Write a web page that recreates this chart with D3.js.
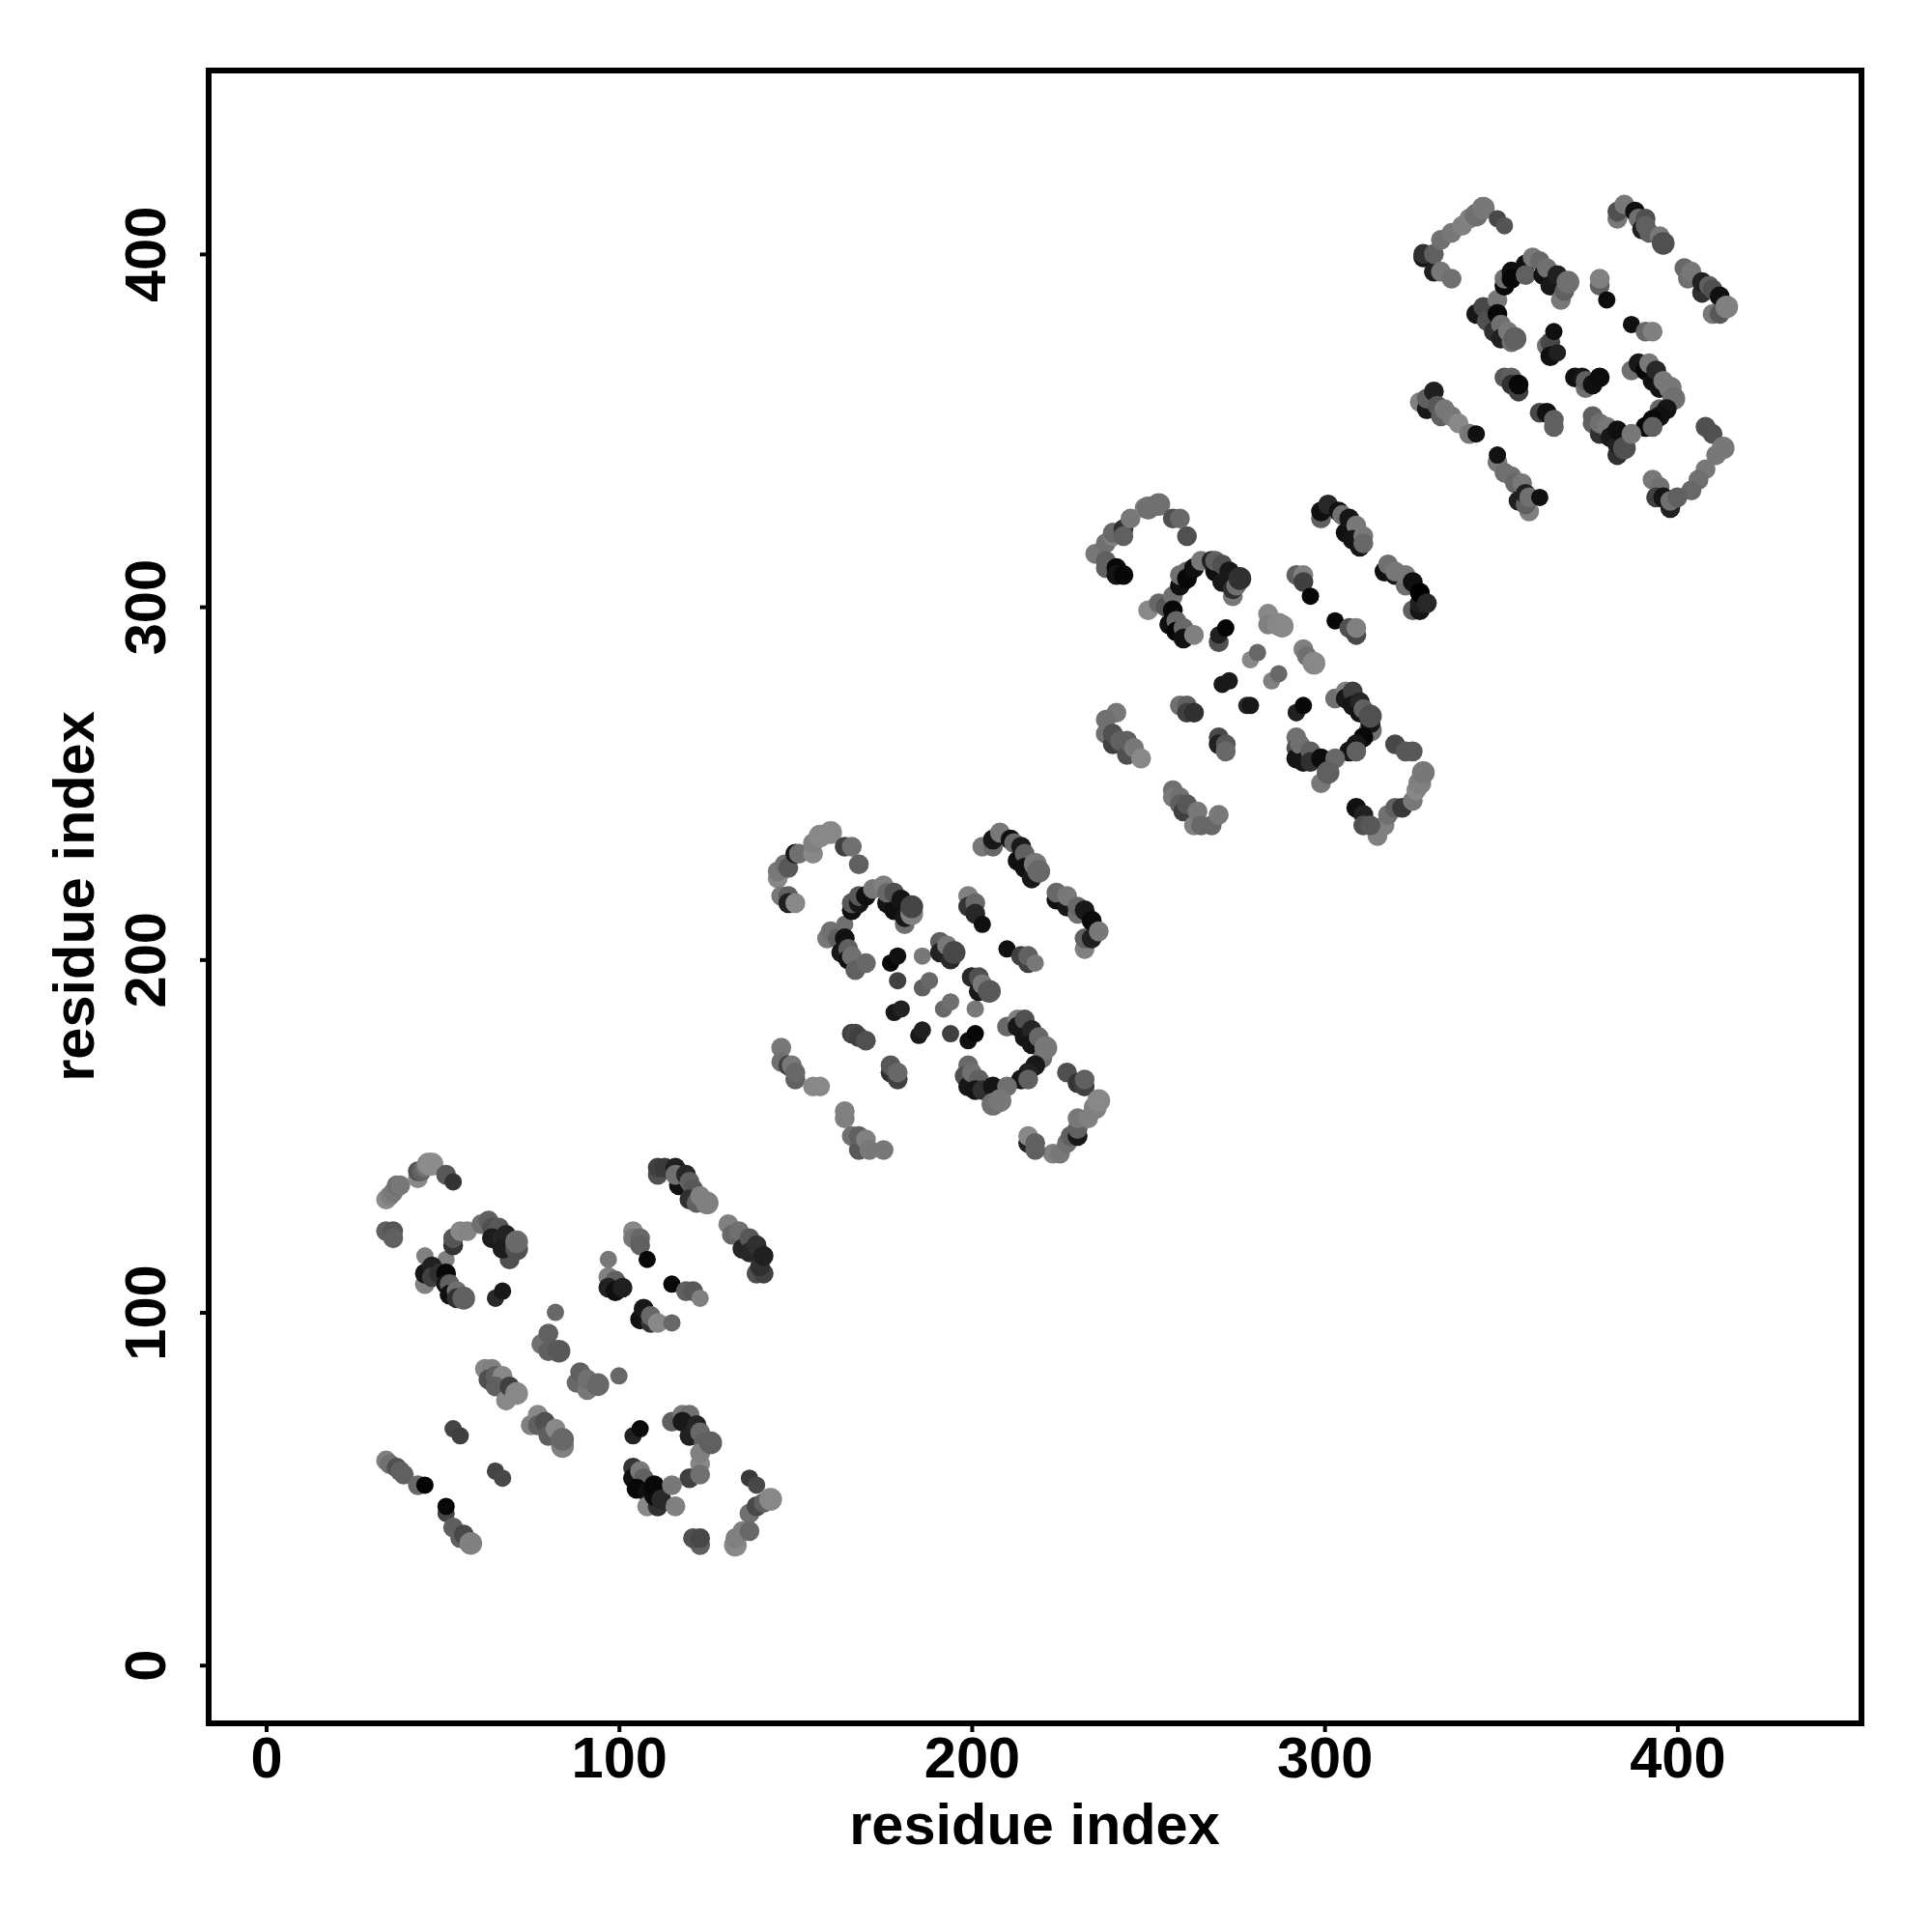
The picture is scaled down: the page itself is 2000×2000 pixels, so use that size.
<!DOCTYPE html>
<html><head><meta charset="utf-8">
<script src="https://cdn.jsdelivr.net/npm/d3@7"></script>
<style>html,body{margin:0;padding:0;background:#fff}svg{display:block}</style>
</head><body><svg id="c" width="2000" height="2000"></svg>
<script>
const tickValues=[0,100,200,300,400];
const axisTitle="residue index";
// [residue i, residue j, grey level]
const block1=[[34,132,0x8c],[35,133,0x80],[36,134,0x78],[37,136,0x70],[38,136,0x78],[43,138,0x88],[43,140,0x50],[44,140,0x60],[45,141,0x70],[46,142,0x88],[47,142,0x8c],[51,139,0x58],[53,137,0x33],
[34,123,0x60],[36,123,0x55],[36,121,0x60],
[45,116,0x80],[51,115,0x80],[53,119,0x33],[53,121,0x55],[55,123,0x88],[57,123,0x85],[61,125,0x70],[63,126,0x60],[64,124,0x50],[66,124,0x58],[69,115,0x50],[64,121,0x1c],[67,121,0x25],[68,122,0x22],[67,118,0x1c],[71,118,0x50],[71,120,0x6a],
[45,108,0x80],[45,111,0x15],[47,113,0x20],[47,110,0x40],[49,111,0x30],[51,111,0x08],[51,108,0x15],[52,108,0x60],[52,105,0x10],[54,106,0x70],[54,104,0x30],[56,104,0x60],
[65,104,0x2a],[67,106,0x18],
[82,100,0x68],[78,91,0x70],[80,94,0x60],[80,89,0x60],[83,89,0x58],
[88,80,0x68],[89,83,0x60],[91,78,0x78],[91,81,0x70],[94,79.5,0x68],[100,82,0x68],
[62,84,0x85],[64,84,0x80],[63,81,0x50],[65,82,0x60],[67,82,0x88],[65,79,0x60],[68,75,0x88],[69,79,0x40],[71,77,0x88],
[75,68,0x80],[77,71,0x88],[77,68,0x60],[79,69,0x50],[80,65,0x60],[82,67,0x88],[84,62,0x80],[84,64,0x68],
[53,67,0x44],[55,65,0x40],[65,55,0x44],[67,53,0x48],
[34,58,0x80],[35,57,0x70],[37,56,0x50],[38,55,0x60],[39,54,0x60],[43,51,0x68],[45,51,0x05],[51,43,0x45],[51,45,0x08],[53,39,0x60],[55,36,0x60],[56,37,0x48],[58,34.5,0x80],
[111,139,0x50],[111,141,0x40],[113,141,0x3a],[116,141,0x20],[117,136,0x10],[116,139,0x70],[119,139,0x28],[120,137,0x60],[121,135,0x58],[120,132,0x30],[122,131,0x60],[123,133,0x80],[125,131,0x80],
[131,125,0x80],[132,122,0x68],[134,123,0x70],[135,118,0x25],[137,121,0x58],[137,117,0x28],[139,111,0x50],[141,111,0x40],[140,113,0x30],[139,119,0x30],[141,116,0x20],
[104,123,0x88],[104,121,0x78],[106,121,0x68],[106,119,0x60],[108,115,0x08],
[97,115,0x78],[97,110,0x80],[99,109,0x60],[97,107,0x22],[99,106,0x10],[101,107,0x20],
[115,108,0x08],[119,106,0x60],[121,106,0x58],[123,104,0x80],
[106,98,0x10],[107,101,0x18],[109,97,0x35],[109,99,0x68],[111,97,0x88],[115,97,0x68],
[115,69,0x60],[118,71,0x78],[120,71,0x70],[118,69,0x18],[120,65,0x20],[122,68,0x25],[123,66,0x68],[124,63,0x60],[123,57,0x88],[123,60,0x80],[120,53,0x40],[123,54,0x70],[126,63,0x60],
[104,65,0x22],[106,67,0x0c],
[104,56,0x35],[104,53,0x10],[106,55,0x78],[107,53,0x60],[105,50,0x08],[108,49,0x10],[108,45,0x88],[111,45,0x30],[110,48,0x0c],[110,51,0x08],[112,47,0x28],[115,51,0x78],[116,45,0x80],
[137,53,0x3a],[139,51,0x48],[137,43,0x70],[139,45,0x48],[141,46,0x60],[143,47,0x88],
[133,34,0x88],[133,36,0x80],[135,38,0x80],[137,38,0x68],
[123,34,0x60],[121,36,0x50],[123,36,0x48]];
const block2=[[145,223,0x88],[145,225,0x78],[147,227,0x70],[148,226,0x58],[150,230,0x18],[151,230,0x70],[155,230,0x88],[155,233,0x80],[157,235,0x88],[160,236,0x88],[164,232,0x40],[168,227,0x60],[166,232,0x70],
[146,218,0x78],[148,218,0x60],[148,216,0x20],[150,216,0x88],
[159,206,0x78],[160,208,0x70],[162,206,0x60],[164,210,0x70],[164,206,0x12],[163,202,0x18],[165,203,0x60],[165,200,0x10],[166,201,0x70],[167,197,0x60],[170,199,0x68],
[166,214,0x10],[166,216,0x58],[168,216,0x18],[168,218,0x58],[170,218,0x10],[172,220,0x78],[175,221,0x80],[176,216,0x15],[176,219,0x68],[178,214,0x10],[178,219,0x50],[180,217,0x15],[181,210,0x70],[181,212,0x18],[183,213,0x80],[183,215,0x45],
[177,199,0x08],[179,201,0x10],[179,194,0x40],[186,201,0x78],[186,192,0x60],[188,194,0x68],[178,185,0x18],[180,186,0x22],[192,186,0x68],[194,188,0x70],[201,186,0x78],
[185,178.5,0x18],[186,180,0x20],[194,179,0x40],[199,177,0x10],[201,179,0x08],
[166,179,0x40],[167,179,0x48],[168,178,0x40],[170,177,0x50],
[177,168,0x30],[177,170,0x58],[179,166,0x40],[179,168,0x68],
[191,205,0x60],[191,202,0x22],[193,204,0x78],[194,200,0x28],[195,202,0x48],
[200,195,0x28],[202,191,0x18],[202,195,0x50],[203,193,0x78],[205,191,0x58],
[203,232,0x78],[206,232,0x68],[206,234,0x18],[208,236,0x78],[211,234,0x10],[212,233,0x68],[213,228,0x10],[214,232,0x1a],[215,230,0x60],[215,226,0x10],[217,223,0x18],[218,227,0x78],[219,225,0x68],
[224,217,0x10],[224,219,0x68],[227,215,0x18],[227,218,0x78],[230,213,0x70],[230,215,0x68],[232,203,0x80],[232,206,0x60],[232,214,0x18],[234,206,0x20],[234,211,0x0a],[236,208,0x78],
[199,218,0x80],[199,215,0x35],[201,216,0x68],[201,213,0x28],[203,210,0x10],
[210,203,0x10],[214,201,0x40],[216,199,0x40],[216,201,0x60],[218,199,0x78],
[210,181,0x68],[213,183,0x80],[213,181,0x18],[215,183,0x50],[215,178,0x15],[217,180,0x25],[217,176,0x15],[219,178,0x68],[220,172,0x70],[221,175,0x78],[218,170,0x18],[216,168,0x20],[214,166,0x18],[216,166,0x60],
[199,170,0x68],[198,167,0x50],[199,164,0x18],[200,168,0x70],[202,166,0x60],[201,163,0x15],[203,163,0x30],[206,164,0x15],[206,159,0x70],[210,164,0x70],[208,160,0x78],
[227,168,0x50],[230,165,0x35],[232,164,0x40],[232,166,0x60],
[223,145,0x80],[225,145,0x78],[227,148,0x70],[228,150,0x60],[230,150,0x18],[230,152,0x60],[230,155,0x78],[233,155,0x80],[235,158,0x80],[236,160,0x88],
[216,148,0x20],[216,150,0x88],[218,146,0x60],[218,148,0x60],
[146,175,0x78],[146,171,0x70],[148,170,0x40],[149,170,0x78],[150,166,0x60],[150,168,0x68],[155,164,0x88],[157,164,0x88],
[164,155,0x80],[164,157,0x80],[166,150,0x70],[168,146,0x58],[168,150,0x60],[170,149,0x80],[171,146,0x78],[175,146,0x78]];
const block3=[[235,315,0x78],[238,318,0x70],[240,320,0x80],[240,321,0x68],[243,322,0x30],[243,320,0x60],[245,325,0x78],[249,328,0x80],[250,328,0x70],[253,329,0x70],[257,325,0x50],[261,320,0x50],[259,325,0x68],
[238,313,0x60],[238,311,0x60],[241,311,0x08],[241,309,0x15],[243,309,0x08],
[250,299,0x88],[253,301,0x68],[255,300,0x55],[257,303,0x70],[257,299,0x08],[256,295,0x10],[258,296,0x68],[258,293,0x05],[260,294,0x68],[260,291,0x10],[263,292,0x80],
[259,306,0x10],[259,309,0x70],[261,310,0x70],[261,308,0x08],[263,311,0x10],[265,313,0x78],[268,313,0x22],[269,310,0x10],[269,313,0x60],[271,307,0x18],[271,312,0x50],[273,310,0x18],[274,303,0x78],[274,305,0x30],[275,306,0x70],[276,308,0x30],
[270,290,0x50],[270,292,0x20],[272,294,0x05],
[284,298,0x88],[284,295,0x80],[287,295,0x88],[288,294.5,0x88],
[279,285,0x88],[281,287,0x68],[294,288,0x80],[295,286,0x70],[297,284,0x88],
[285,279,0x80],[287,281,0x68],[271,278,0x18],[273,279,0x1a],[278,272,0x28],[279,272,0x18],
[259,272,0x70],[261,272,0x60],[261,270,0x40],[263,270,0x30],
[270,263,0x48],[270,261,0x20],[272,261,0x58],[272,259,0x68],
[292,270,0x60],[292,270,0x20],[294,272,0x08],
[299,325,0x60],[299,327,0x10],[301,329,0x28],[304,327,0x12],[305,326,0x70],[306,321,0x10],[307,325,0x15],[309,323,0x78],[308,319,0x15],[310,317,0x15],[311,320,0x78],[311,318,0x68],
[317,310,0x10],[318,312,0x70],[320,309,0x18],[320,310,0x78],[323,306,0x70],[323,309,0x78],[325,299,0x60],[325,307,0x10],[327,299,0x15],[327,301,0x20],[327,304,0x00],[329,301,0x28],
[292,309,0x60],[294,309,0x80],[294,307,0x40],[296,303,0x08],
[303,296,0x08],[307,294,0x50],[309,292,0x48],[309,294,0x80],
[303,274,0x70],[306,276,0x80],[306,274,0x18],[308,276,0x40],[308,272,0x15],[310,273,0x25],[310,270,0x15],[311,271,0x60],[313,265,0x70],[313,267,0x15],[313,269,0x50],[311,263,0x08],[309,261,0x18],[307,259,0x15],[309,259,0x60],
[292,263,0x70],[292,260,0x50],[292,257,0x15],[293,261,0x70],[294,256,0x15],[296,259,0x60],[296,256,0x30],[299,250,0x78],[299,257,0x0c],[303,257,0x68],[301,253,0x60],
[320,261,0x48],[323,259,0x58],[325,259,0x58],
[315,235,0x80],[317,238,0x80],[318,241,0x70],[320,243,0x60],[322,243,0x38],[325,245,0x78],[326,248,0x88],[327,250,0x80],[328,253,0x78],
[309,243,0x10],[311,241,0x22],[311,238,0x50],[313,238,0x58],
[241,270,0x78],[238,268,0x70],[238,264,0x70],[240,261,0x40],[240,264,0x50],[242,262,0x60],[244,258,0x50],[244,262,0x60],[246,260,0x78],[248,257,0x88],
[257,248,0x70],[257,246,0x78],[259,246,0x70],[259,244,0x60],[260,242,0x40],[261,244,0x58],[263,238,0x80],[264,242,0x78],[265,238,0x68],[268,238,0x68],[270,241,0x78]];
const block4=[[328,399,0x15],[328,400,0x30],[331,395,0x20],[331,400,0x60],[333,395,0x78],[336,393,0x70],[333,404,0x70],[336,406,0x78],[339,408,0x80],[341,410,0x80],[343,411,0x70],[345,413,0x78],[349,410,0x48],[351,408,0x55],
[343,383,0x18],[345,385,0x48],[349,387,0x78],[346,381,0x50],[349,383,0x08],[348,378,0x30],[350,380,0x70],[350,376,0x20],[352,378,0x78],[353,375,0x70],[354,376,0x60],
[351,391,0x08],[351,393,0x70],[353,395,0x10],[353,393,0x08],[357,397,0x10],[357,394,0x60],[359,399,0x78],[361,398,0x68],[362,394,0x10],[363,396,0x70],[364,391,0x18],[366,394,0x20],[367,387,0x78],[368,389.5,0x60],[369,392,0x70],
[363,374,0x70],[364,375,0x48],[365,378,0x10],[364,371,0x10],[366,372,0x20],
[378,391,0x60],[378,393,0x80],[380,387,0x0c],
[387,380,0x10],[391,378,0x68],[393,378,0x80],
[351,365,0x58],[353,365,0x60],[353,363,0x30],[355,361,0x40],[355,363,0x08],
[361,355,0x48],[363,355,0x10],[365,351,0x60],[365,353,0x60],
[371,365,0x10],[373,365,0x15],[374,362,0x70],[374,364,0x60],[376,363,0x10],[378,365,0x0c],
[383,410,0x78],[383,412,0x50],[385,414,0x78],[388,412,0x10],[389,410,0x70],[390,407,0x20],[391,410,0x50],[391,408,0x60],[392,406,0x60],[395,405,0x78],[396,403,0x50],
[402,396,0x68],[403,393,0x70],[404,395,0x78],[407,389,0x30],[407,392,0x20],[409,391,0x60],[410,383,0x78],[410,390,0x50],[412,383,0x58],[412,388,0x10],[414,385,0x80],
[387,367,0x70],[389,369,0x18],[391,367,0x08],[392,369,0x78],[393,364,0x10],[394,367,0x28],[395,362,0x15],[396,364,0x78],[398,362,0x78],[399,359,0x70],[395,356,0x68],[397,356,0x15],[395,354,0x10],[393,353,0x08],[391,351,0x08],[393,351,0x60],
[376,354,0x60],[376,352,0x60],[378,349,0x30],[378,352,0x70],[380,351,0x78],[381,348,0x18],[383,343,0x30],[383,346,0x20],[383,350,0x10],[385,345,0x50],[387,349,0x78],
[408,351,0x50],[410,349,0x50],[413,345,0x78],[411,343,0x78],[408,339,0x78],[406,336,0x70],[404,333,0x68],
[393,336,0x78],[395,334,0x70],[394,331,0x40],[396,331,0x15],[398,328,0x20],[398,330,0x70],[400,331,0x60],
[327,358,0x80],[329,356,0x18],[329,359,0x60],[331,361,0x20],[332,357,0x58],[333,354,0x60],[334,356,0x78],[336,354,0x78],[338,352,0x88],[341,349,0x78],[343,349,0x10],
[349,341,0x78],[349,343,0x12],[351,338,0x70],[353,337,0x70],[354,335,0x68],[356,335,0x78],[355,330,0x20],[358,327,0x80],[357,329,0x60],[357,332,0x20],[358,331,0x70],[361,331,0x10]];
const weakContacts=["82,100","100,82","53,67","55,65","65,55","67,53","45,51","51,45","51,43","65,104","67,106","108,115","115,108","123,104","115,97","97,115","45,116","51,115","104,65","106,67","137,53","139,51","53,137",
"179,201","177,199","179,194","186,201","186,192","188,194","178,185","180,186","192,186","194,188","201,186","185,178.5","186,180","194,179","199,177","201,179","203,210","210,203","218,199","164,210",
"272,294","270,292","281,287","279,285","287,281","285,279","271,278","273,279","278,272","279,272","294,272","292,270","296,303","303,296",
"380,387","387,380","365,378","366,372","351,408","349,410","349,343","343,349","361,331"];
const strongContacts=["46,142","47,142","125,131","143,47","58,34.5","133,34","71,120","71,118","126,63","56,104","84,64","84,62","71,77","94,79.5","83,89",
"160,236","157,235","236,160","235,158","183,213","183,215","221,175","205,191","195,202","218,227","219,225","208,160","206,159",
"253,329","250,328","328,253","327,250","288,294.5","287,295","297,284","276,308","313,269","313,265","301,253",
"345,413","343,411","414,385","413,345","399,359","398,362","369,392","354,376","385,345","396,403"];

const points=[...block1,...block2,...block3,...block4];
const weak=new Set(weakContacts), strong=new Set(strongContacts);
const weight=d=>{const k=d[0]+","+d[1];return weak.has(k)?0:strong.has(k)?2:1;};
const size=d3.scaleLinear().domain([0,1,2]).range([9,10.3,11.8]);
const svg=d3.select("#c");
const x=d3.scaleLinear().domain([-16.3,452.2]).range([216,1927]);
const y=d3.scaleLinear().domain([-16.5,452.0]).range([1784,73]);
const font="'Liberation Sans',Arial,sans-serif";
const fs=59.5;

svg.append("g").selectAll("circle").data(points).join("circle")
  .attr("cx",d=>x(d[0])).attr("cy",d=>y(d[1])).attr("r",d=>size(weight(d)))
  .attr("fill",d=>d3.rgb(d[2],d[2],d[2]).formatHex());

svg.append("rect").attr("x",216).attr("y",73).attr("width",1711).attr("height",1711)
  .attr("fill","none").attr("stroke","#000").attr("stroke-width",6);

const gx=svg.append("g").attr("transform","translate(0,1784)")
  .call(d3.axisBottom(x).tickValues(tickValues).tickSize(9).tickSizeOuter(0).tickPadding(3));
gx.select(".domain").remove();
gx.selectAll("line").attr("stroke","#000").attr("stroke-width",4);
gx.selectAll("text").attr("font-family",font).attr("font-weight","bold").attr("font-size",fs).attr("fill","#000")
  .attr("dy",null).attr("y",56);

const gy=svg.append("g").attr("transform","translate(216,0)")
  .call(d3.axisLeft(y).tickValues(tickValues).tickSize(9).tickSizeOuter(0));
gy.select(".domain").remove();
gy.selectAll("line").attr("stroke","#000").attr("stroke-width",4);
gy.selectAll("text").attr("font-family",font).attr("font-weight","bold").attr("font-size",fs).attr("fill","#000")
  .attr("dy",null).attr("x",null).attr("text-anchor","middle")
  .attr("transform","translate(-45,0) rotate(-90)");

svg.append("text").attr("x",1071).attr("y",1909).attr("text-anchor","middle")
  .attr("font-family",font).attr("font-weight","bold").attr("font-size",fs).text(axisTitle);
svg.append("text").attr("transform","translate(97,928) rotate(-90)").attr("text-anchor","middle")
  .attr("font-family",font).attr("font-weight","bold").attr("font-size",fs).text(axisTitle);
</script></body></html>
